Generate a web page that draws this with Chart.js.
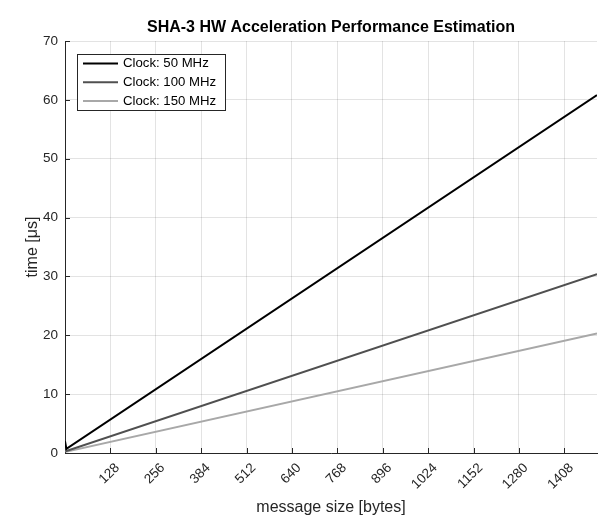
<!DOCTYPE html>
<html>
<head>
<meta charset="utf-8">
<script src="https://cdn.jsdelivr.net/npm/chart.js@4/dist/chart.umd.min.js"></script>
<style>
  html, body { margin: 0; padding: 0; background: #fff; }
  #wrap { width: 605px; height: 522px; position: relative; }
</style>
</head>
<body>
<div id="wrap"><canvas id="perfChart"></canvas></div>
<script>
// message sizes [bytes] and estimated time [us] per clock
const msgSizes = [0, 4, 1500];
const time50 = [2.0, 0.7, 60.8];
const time100 = [1.0, 0.35, 30.4];
const time150 = [0.67, 0.23, 20.3];
const seriesLabels = ["Clock: 50 MHz", "Clock: 100 MHz", "Clock: 150 MHz"];
const xTicks = [128, 256, 384, 512, 640, 768, 896, 1024, 1152, 1280, 1408];
const yTicks = [0, 10, 20, 30, 40, 50, 60, 70];
const chartTitle = "SHA-3 HW Acceleration Performance Estimation";

const FONT = "'Liberation Sans', Arial, Helvetica, sans-serif";
const AXIS = "#262626";

function toPoints(xs, ys) {
  return xs.map((x, i) => ({ x, y: ys[i] }));
}

function makeDataset(label, ys, color) {
  return {
    label,
    data: toPoints(msgSizes, ys),
    borderColor: color,
    backgroundColor: color,
    borderWidth: 2,
    pointRadius: 0,
    tension: 0,
    fill: false
  };
}

// title centred over the plot area, not the canvas
const plotTitle = {
  id: "plotTitle",
  afterDraw(chart) {
    const { ctx, chartArea } = chart;
    ctx.save();
    ctx.font = "bold 16px " + FONT;
    ctx.fillStyle = "#000";
    ctx.textAlign = "center";
    ctx.textBaseline = "alphabetic";
    ctx.fillText(chartTitle, (chartArea.left + chartArea.right) / 2, 32);
    ctx.restore();
  }
};

// matlab style: ticks pointing into the plot
const innerTicks = {
  id: "innerTicks",
  afterDatasetsDraw(chart) {
    const { ctx, chartArea, scales } = chart;
    ctx.save();
    ctx.strokeStyle = AXIS;
    ctx.lineWidth = 1;
    ctx.beginPath();
    xTicks.forEach(v => {
      const px = Math.round(scales.x.getPixelForValue(v)) + 0.5;
      ctx.moveTo(px, chartArea.bottom);
      ctx.lineTo(px, chartArea.bottom - 5);
    });
    yTicks.forEach(v => {
      const py = Math.round(scales.y.getPixelForValue(v)) + 0.5;
      ctx.moveTo(chartArea.left, py);
      ctx.lineTo(chartArea.left + 5, py);
    });
    ctx.stroke();
    ctx.restore();
  }
};

// legend box inside the plot, upper left
const boxLegend = {
  id: "boxLegend",
  afterDraw(chart) {
    const { ctx, chartArea } = chart;
    const x0 = chartArea.left + 12;
    const y0 = chartArea.top + 13;
    const w = 148, h = 56;
    ctx.save();
    ctx.fillStyle = "#fff";
    ctx.fillRect(x0, y0, w, h);
    ctx.strokeStyle = AXIS;
    ctx.lineWidth = 1;
    ctx.strokeRect(x0 + 0.5, y0 + 0.5, w, h);
    ctx.font = "13.2px " + FONT;
    ctx.textBaseline = "middle";
    ctx.fillStyle = "#000";
    chart.data.datasets.forEach((ds, i) => {
      const cy = y0 + 9.5 + i * 18.7;
      ctx.strokeStyle = ds.borderColor;
      ctx.lineWidth = 2;
      ctx.beginPath();
      ctx.moveTo(x0 + 6, cy);
      ctx.lineTo(x0 + 41, cy);
      ctx.stroke();
      ctx.fillText(ds.label, x0 + 46, cy);
    });
    ctx.restore();
  }
};

const ctx = document.getElementById("perfChart").getContext("2d");
const perfChart = new Chart(ctx, {
  type: "line",
  data: {
    datasets: [
      makeDataset(seriesLabels[0], time50, "#000000"),
      makeDataset(seriesLabels[1], time100, "#505050"),
      makeDataset(seriesLabels[2], time150, "#a8a8a8")
    ]
  },
  options: {
    responsive: true,
    maintainAspectRatio: false,
    animation: false,
    layout: { padding: { left: 0, right: 8, top: 41, bottom: 0 } },
    plugins: {
      legend: { display: false },
      tooltip: { enabled: false },
      title: { display: false }
    },
    scales: {
      x: {
        type: "linear",
        min: 0,
        max: 1500,
        afterBuildTicks(scale) {
          scale.ticks = xTicks.map(v => ({ value: v }));
        },
        afterFit(scale) { scale.height = 69; },
        border: { display: true, color: AXIS, width: 1 },
        grid: { color: "rgba(38,38,38,0.13)", drawTicks: false },
        ticks: {
          autoSkip: false,
          minRotation: 45,
          maxRotation: 45,
          padding: 7,
          labelOffset: 7,
          color: AXIS,
          font: { family: FONT, size: 13.5 },
          callback: v => String(v)
        },
        title: {
          display: true,
          text: "message size [bytes]",
          color: AXIS,
          font: { family: FONT, size: 16 },
          padding: { top: 0, bottom: 5 }
        }
      },
      y: {
        min: 0,
        max: 70,
        afterBuildTicks(scale) {
          scale.ticks = yTicks.map(v => ({ value: v }));
        },
        afterFit(scale) { scale.width = 65; },
        border: { display: true, color: AXIS, width: 1 },
        grid: { color: "rgba(38,38,38,0.13)", drawTicks: false },
        ticks: {
          padding: 7,
          color: AXIS,
          font: { family: FONT, size: 13.5 }
        },
        title: {
          display: true,
          text: "time [μs]",
          color: AXIS,
          font: { family: FONT, size: 16 },
          padding: { top: 23, bottom: 0 }
        }
      }
    }
  },
  plugins: [innerTicks, boxLegend, plotTitle]
});
</script>
</body>
</html>
